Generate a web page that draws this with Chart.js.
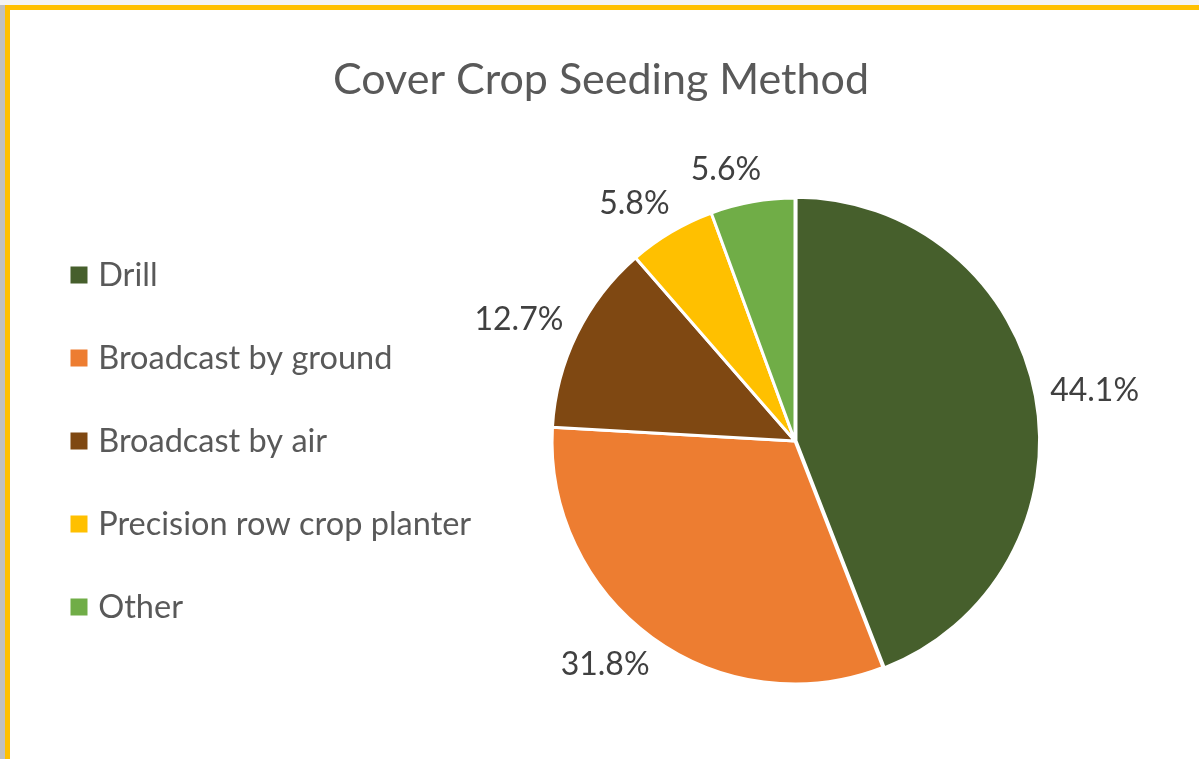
<!DOCTYPE html>
<html>
<head>
<meta charset="utf-8">
<script src="https://cdn.jsdelivr.net/npm/chart.js@4.4.0/dist/chart.umd.min.js"></script>
<style>
  html, body { margin: 0; padding: 0; }
  body { width: 1199px; height: 759px; background: #f4f4f4; position: relative; overflow: hidden; }
  #shadow { position: absolute; left: 0; top: 5px; width: 5px; height: 754px; background: #c0c0c0; }
  #frame { position: absolute; left: 5px; top: 5px; width: 1200px; height: 760px;
           border-top: 5px solid #ffc000; border-left: 5px solid #ffc000; background: #ffffff; }
  #wrap { position: absolute; left: 10px; top: 10px; width: 1189px; height: 749px; }
</style>
</head>
<body>
<div id="shadow"></div>
<div id="frame"></div>
<div id="wrap"><canvas id="c"></canvas></div>
<script>
const titleText = "Cover Crop Seeding Method";
const categories = ["Drill", "Broadcast by ground", "Broadcast by air", "Precision row crop planter", "Other"];
const shares = [44.1, 31.8, 12.7, 5.8, 5.6];
const sliceColors = ["#465f2c", "#ed7d31", "#7f4812", "#ffc000", "#70ad47"];
const sliceOffsets = [4, 0, 0, 0, 0];

const FONT = "Lato, 'Open Sans', sans-serif";

const labelPlugin = {
  id: 'outsideLabels',
  afterDatasetsDraw(chart) {
    const ctx = chart.ctx;
    const meta = chart.getDatasetMeta(0);
    ctx.save();
    ctx.font = "32px " + FONT;
    ctx.fillStyle = "#404040";
    ctx.textAlign = "center";
    ctx.textBaseline = "middle";
    meta.data.forEach((arc, i) => {
      const p = arc.getProps(['x', 'y', 'startAngle', 'endAngle', 'outerRadius'], true);
      const mid = (p.startAngle + p.endAngle) / 2;
      const dx = Math.cos(mid), dy = Math.sin(mid);
      const txt = shares[i].toFixed(1) + "%";
      const w = ctx.measureText(txt).width;
      const hw = w / 2, hh = 16;
      const g = 17;
      const ax = p.x + (p.outerRadius + g) * dx;
      const ay = p.y + (p.outerRadius + g) * dy;
      const sx = Math.sign(dx) * hw * 0.6 + dx * hw * 0.4;
      ctx.fillText(txt, ax + sx, ay + dy * hh);
    });
    ctx.restore();
  }
};

// keep the legend's layout width fixed while letting its text draw unclipped
const legendClipPlugin = {
  id: 'legendClip',
  afterLayout(chart) {
    const lg = chart.legend;
    if (lg) { lg.width = 480; lg.right = lg.left + 480; }
  }
};

new Chart(document.getElementById('c'), {
  type: 'pie',
  data: {
    labels: categories,
    datasets: [{
      data: shares,
      backgroundColor: sliceColors,
      borderColor: "#ffffff",
      borderWidth: 3,
      offset: sliceOffsets
    }]
  },
  options: {
    responsive: true,
    maintainAspectRatio: false,
    animation: false,
    layout: { padding: { left: 15.5, right: 22.5, top: 0, bottom: 71.5 } },
    plugins: {
      title: {
        display: true,
        text: titleText,
        color: "#595959",
        font: { family: FONT, size: 43, weight: 'normal' },
        padding: { top: 44, bottom: 89 }
      },
      legend: {
        position: 'left',
        align: 'center',
        fullSize: false,
        maxWidth: 388,
        labels: {
          color: "#595959",
          font: { family: FONT, size: 32.5 },
          usePointStyle: true,
          pointStyle: 'rect',
          boxWidth: 6,
          boxHeight: 17,
          padding: 50.5,
          generateLabels(chart) {
            const items = Chart.overrides.pie.plugins.legend.labels.generateLabels(chart);
            items.forEach(it => { it.lineWidth = 0; it.strokeStyle = 'rgba(0,0,0,0)'; });
            return items;
          }
        }
      },
      tooltip: { enabled: false }
    }
  },
  plugins: [labelPlugin, legendClipPlugin]
});
</script>
</body>
</html>
